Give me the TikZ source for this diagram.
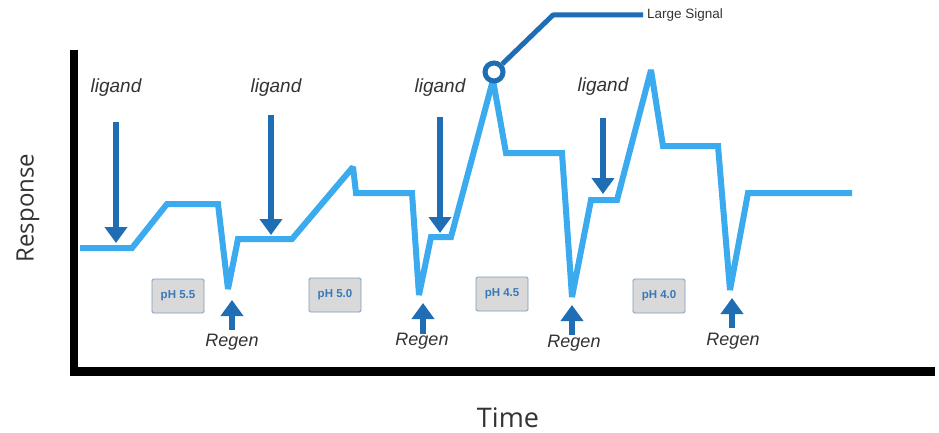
\documentclass[tikz,border=0pt]{standalone}
\usepackage{fontspec}
\setmainfont{Liberation Sans}
\newfontfamily\axisfont{Open Sans}
\usetikzlibrary{arrows.meta}
\definecolor{trace}{HTML}{3BAAEE}
\definecolor{darkb}{HTML}{1F6DB5}
\definecolor{phtext}{HTML}{3A78B8}
\definecolor{phbox}{HTML}{D9D9D9}
\definecolor{phedge}{HTML}{7F9CC0}
\definecolor{txt}{HTML}{333333}
\tikzset{
  tracestyle/.style={draw=trace, line width=6pt, line join=miter, miter limit=2},
  ligarrow/.style={draw=darkb, line width=6pt, -{Triangle[width=22pt,length=16pt]}},
  regarrow/.style={draw=darkb, line width=6pt, -{Triangle[width=22pt,length=16pt]}},
  phstyle/.style={draw=phedge, fill=phbox, line width=0.8pt, rounded corners=1.5pt, minimum width=52pt, minimum height=34pt, inner sep=0pt, text=phtext, font=\fontsize{11.5}{12}\selectfont\bfseries},
  liglabel/.style={text=txt, font=\fontsize{19}{21}\selectfont\itshape},
  reglabel/.style={text=txt, font=\fontsize{18}{20}\selectfont\itshape},
  axislabel/.style={text=txt, font=\axisfont\fontsize{24}{26}\selectfont},
}
\begin{document}
\begin{tikzpicture}[x=1pt,y=-1pt]
\useasboundingbox[fill=white] (0,0) rectangle (939,433);
% axes
\coordinate (ytop) at (74,50);
\coordinate (orig) at (74,371);
\coordinate (xend) at (935,371);
\draw[line width=8pt] (ytop) -- (orig);
\draw[line width=9pt] (70,371) -- (xend);
% trace
\draw[tracestyle] (80,248) -- (132,248) -- (167,204) -- (218,204) -- (228,289) -- (238,239)
  -- (292,239) -- (353,167) -- (356,193) -- (412,193) -- (419,295) -- (431,237) -- (451,237)
  -- (493,80) -- (506,153) -- (562,153) -- (572,297) -- (591,200) -- (617,200) -- (651,70)
  -- (663,146) -- (718,146) -- (730,290) -- (748,193) -- (852,193);
% large signal callout
\coordinate (ls1) at (553,15);
\coordinate (ls2) at (643,15);
\node[circle, draw=darkb, fill=white, line width=5pt, minimum size=18pt, inner sep=0pt] (peak) at (494,72) {};
\draw[draw=darkb, line width=5pt, line join=round] (peak) -- (ls1) -- (ls2);
\node[anchor=west, text=txt, font=\fontsize{13.5}{14}\selectfont, inner sep=0pt] (lslabel) at (647,15) {Large Signal};
% ligand labels and arrows
\node[liglabel] (l1) at (116,88) {ligand};
\node[liglabel] (l2) at (276,88) {ligand};
\node[liglabel] (l3) at (440,88) {ligand};
\node[liglabel] (l4) at (603,87) {ligand};
\coordinate (a1s) at (116,122); \coordinate (a1e) at (116,243);
\coordinate (a2s) at (271,115); \coordinate (a2e) at (271,235);
\coordinate (a3s) at (440,117); \coordinate (a3e) at (440,233);
\coordinate (a4s) at (603,118); \coordinate (a4e) at (603,194);
\draw[ligarrow] (a1s) -- (a1e);
\draw[ligarrow] (a2s) -- (a2e);
\draw[ligarrow] (a3s) -- (a3e);
\draw[ligarrow] (a4s) -- (a4e);
% regen arrows and labels
\coordinate (r1s) at (232,330); \coordinate (r1e) at (232,300);
\coordinate (r2s) at (423,334); \coordinate (r2e) at (423,303);
\coordinate (r3s) at (572,335); \coordinate (r3e) at (572,305);
\coordinate (r4s) at (732,328); \coordinate (r4e) at (732,298);
\draw[regarrow] (r1s) -- (r1e);
\draw[regarrow] (r2s) -- (r2e);
\draw[regarrow] (r3s) -- (r3e);
\draw[regarrow] (r4s) -- (r4e);
\node[reglabel] (g1) at (232,342) {Regen};
\node[reglabel] (g2) at (422,341) {Regen};
\node[reglabel] (g3) at (574,343) {Regen};
\node[reglabel] (g4) at (733,341) {Regen};
% pH boxes
\node[phstyle] (p1) at (178,296) {pH 5.5};
\node[phstyle] (p2) at (335,295) {pH 5.0};
\node[phstyle] (p3) at (502,294) {pH 4.5};
\node[phstyle] (p4) at (659,296) {pH 4.0};
% axis labels
\node[axislabel, rotate=90] (ylab) at (28,208) {Response};
\node[axislabel, font=\axisfont\fontsize{27}{29}\selectfont] (xlab) at (508,418) {Time};
\end{tikzpicture}
\end{document}
